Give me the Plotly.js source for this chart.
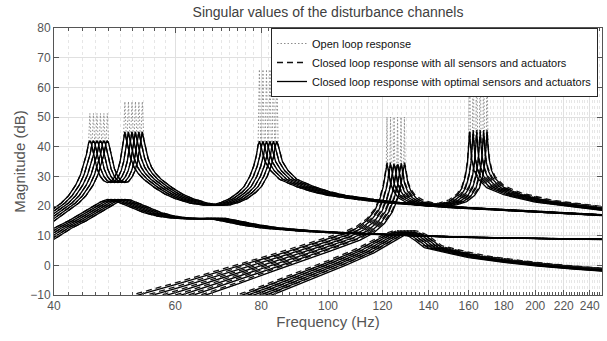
<!DOCTYPE html>
<html><head><meta charset="utf-8">
<script src="https://cdn.plot.ly/plotly-3.0.1.min.js"></script>
<style>html,body{margin:0;padding:0;background:#fff;} #chart{width:607px;height:341px;}</style>
</head><body><div id="chart"></div>
<script>
// ---- tick labels ----
const xTickVals = [40, 60, 80, 100, 120, 140, 160, 180, 200, 220, 240];
const xTickText = ['40', '60', '80', '100', '120', '140', '160', '180', '200', '220', '240'];
const yTickVals = [-10, 0, 10, 20, 30, 40, 50, 60, 70, 80];

// ---- plant variants (frequency scale of each variant, read from the spread of the peaks) ----
const variantScale = [1.000, 1.012, 1.024, 1.036, 1.048, 1.060];
const variantDrop  = [0, 0.2, 0.4, 0.6, 0.8, 1.0];   // share of the bundle spread

// ---- singular value 1 (peaks near 45, 51, 80 Hz) ----
const fA = [37.5, 40, 41, 42, 43, 43.7, 44.2, 44.6, 44.9, 45.1, 45.3, 45.55, 45.8, 46.2, 46.7, 47.2, 47.8, 48.4, 49.0, 49.5, 49.9, 50.2, 50.45, 50.7, 50.95, 51.3, 51.7, 52.3, 53.0, 54.0, 55.0, 56.0, 58.0, 60.0, 63.0, 66.0, 68.0, 70.0, 72.0, 74.0, 75.5, 77.0, 78.0, 78.7, 79.15, 79.5, 79.85, 80.3, 81.0, 82.5, 85, 90, 95, 100, 110, 120, 135, 150, 180, 210, 250, 270];
const clA = [14.5, 19.0, 21.0, 23.5, 27.0, 30.5, 34.0, 37.5, 41.2, 42.0, 41.2, 39.0, 36.0, 32.5, 30.0, 28.6, 27.9, 28.2, 29.8, 32.0, 35.0, 38.5, 42.5, 45.0, 42.5, 39.0, 36.0, 33.0, 31.0, 29.0, 27.5, 26.2, 24.0, 22.5, 21.0, 20.3, 20.4, 21.2, 22.5, 24.5, 26.5, 30.0, 33.5, 37.0, 40.5, 41.8, 40.5, 38.0, 35.0, 32.0, 29.0, 26.5, 24.8, 23.6, 22.2, 21.2, 20.2, 19.5, 18.5, 17.6, 16.8, 16.4];
const olA = [14.5, 19.0, 21.0, 23.5, 27.0, 30.5, 34.0, 37.5, 41.2, 51.2, 41.2, 39.0, 36.0, 32.5, 30.0, 28.6, 27.9, 28.2, 29.8, 32.0, 35.0, 38.5, 42.5, 55.2, 42.5, 39.0, 36.0, 33.0, 31.0, 29.0, 27.5, 26.2, 24.0, 22.5, 21.0, 20.3, 20.4, 21.2, 22.5, 24.5, 26.5, 30.0, 33.5, 37.0, 40.5, 66.0, 40.5, 38.0, 35.0, 32.0, 29.0, 26.5, 24.8, 23.6, 22.2, 21.2, 20.2, 19.5, 18.5, 17.6, 16.8, 16.4];

// ---- singular value 2 (bump near 48 Hz, flat tail) ----
const fC  = [37, 40, 42, 44, 45.5, 46.7, 47.8, 48.8, 50, 52, 54, 56.5, 59, 62, 65, 67, 70, 75, 80, 90, 100, 110, 120, 130, 150, 180, 200, 250, 270];
const clC = [7.5, 12.5, 15.0, 17.8, 19.7, 21.3, 22.2, 22.0, 21.0, 19.4, 17.8, 16.6, 16.0, 15.7, 15.9, 15.8, 15.0, 13.6, 12.6, 11.6, 11.0, 10.6, 10.2, 9.9, 9.5, 9.2, 9.0, 8.7, 8.6];

// ---- singular value 3 (peaks near 122 and 161 Hz) ----
const fD  = [48, 53, 60, 70, 78, 85, 95, 105, 110, 114, 117, 119, 120.3, 121.0, 121.5, 121.8, 122.1, 122.6, 123.3, 124.5, 126.5, 130, 135, 140, 145, 150, 154, 156.5, 158.3, 159.4, 160.1, 160.6, 161.1, 161.8, 163, 165, 170, 180, 200, 225, 250, 270];
const clD = [-14, -10, -6.5, -2.0, 1.3, 3.8, 7.3, 10.5, 12.5, 15.2, 18.5, 22.5, 26.5, 30.5, 33.2, 34.0, 33.2, 30.5, 27.5, 25.0, 22.8, 21.2, 20.3, 20.0, 20.4, 21.5, 23.5, 26.0, 30.0, 34.5, 39.5, 45.0, 40.0, 35.5, 32.0, 29.3, 26.2, 23.8, 21.3, 19.7, 18.5, 17.9];
const olD = [-14, -10, -6.5, -2.0, 1.3, 3.8, 7.3, 10.5, 12.5, 15.2, 18.5, 22.5, 26.5, 30.5, 33.2, 50.0, 33.2, 30.5, 27.5, 25.0, 22.8, 21.2, 20.3, 20.0, 20.4, 21.5, 23.5, 26.0, 30.0, 34.5, 39.5, 70.0, 40.0, 35.5, 32.0, 29.3, 26.2, 23.8, 21.3, 19.7, 18.5, 17.9];
const spreadD = [5.5, 5.5, 5, 4.2, 3.5, 3, 2.5, 2, 1.5, 1, 0.5, 0.2, 0, 0, 0, 0, 0, 0, 0, 0, 0, 0, 0, 0, 0, 0, 0, 0, 0, 0, 0, 0, 0, 0, 0, 0, 0, 0, 0, 0, 0, 0];

// ---- singular value 4 (bump near 127 Hz) ----
const fE  = [70, 75, 80, 90, 100, 110, 117, 121.5, 124, 126, 128, 131, 134, 138, 150, 160, 180, 200, 225, 250, 270];
const clE = [-13, -10, -7.6, -3.2, 1.0, 5.0, 8.3, 10.2, 10.9, 11.1, 10.8, 9.8, 8.3, 6.0, 4.0, 2.6, 1.0, -0.2, -1.2, -2.0, -2.5];
const spreadE = [1.5, 1.5, 1.5, 1.2, 1, 0.8, 0.5, 0.2, 0, 0, 0, 0, 0, 0, 0, 0, 0, 0, 0, 0, 0];

// all-sensor loop sits a little above the optimal one on the low branches
const allShiftD = 0.6, allShiftE = 0.6;

const names = ['Open loop response', 'Closed loop response with all sensors and actuators', 'Closed loop response with optimal sensors and actuators'];

function mk(f, m, spread, k, shift, style, group, show) {
  return {
    type: 'scatter', mode: 'lines',
    x: f.map(v => v * variantScale[k]),
    y: m.map((v, i) => v - (spread ? spread[i] * variantDrop[k] : 0) + shift),
    line: style, name: names[group], legendgroup: 'g' + group, showlegend: show,
    hoverinfo: 'skip'
  };
}

const olStyle  = {color: '#8c8c8c', width: 1, dash: '1.5px,2px'};
const allStyle = {color: '#111111', width: 1.3, dash: '6px,4px'};
const optStyle = {color: '#000000', width: 1.3};

const traces = [];
variantScale.forEach((s, k) => {
  traces.push(mk(fA, olA, null, k, 0, olStyle, 0, k === 0));
  traces.push(mk(fD, olD, spreadD, k, 0, olStyle, 0, false));
});
variantScale.forEach((s, k) => {
  traces.push(mk(fA, clA, null, k, 0, allStyle, 1, k === 0));
  traces.push(mk(fC, clC, null, k, 0, allStyle, 1, false));
  traces.push(mk(fD, clD, spreadD, k, allShiftD, allStyle, 1, false));
  traces.push(mk(fE, clE, spreadE, k, allShiftE, allStyle, 1, false));
});
variantScale.forEach((s, k) => {
  traces.push(mk(fA, clA, null, k, 0, optStyle, 2, k === 0));
  traces.push(mk(fC, clC, null, k, 0, optStyle, 2, false));
  traces.push(mk(fD, clD, spreadD, k, 0, optStyle, 2, false));
  traces.push(mk(fE, clE, spreadE, k, 0, optStyle, 2, false));
});

const minorVals = [];
for (let v = 42; v <= 250; v += 2) if (xTickVals.indexOf(v) < 0) minorVals.push(v);

const axisCol = '#555555';
const layout = {
  width: 607, height: 341,
  margin: {l: 54, r: 5, t: 28, b: 46},
  paper_bgcolor: '#ffffff', plot_bgcolor: '#ffffff',
  font: {family: 'Liberation Sans, Arial, sans-serif', color: axisCol},
  title: {text: 'Singular values of the disturbance channels', font: {size: 14, color: '#404040'},
          x: 0.5, xref: 'paper', xanchor: 'center', y: 1 - 12 / 341, yref: 'container', yanchor: 'middle'},
  showlegend: true,
  legend: {x: 0.9927, xanchor: 'right', y: 1, yanchor: 'top', bgcolor: '#ffffff',
           bordercolor: '#262626', borderwidth: 1, font: {size: 11, color: '#111'},
           tracegroupgap: 0, itemwidth: 30},
  xaxis: {
    type: 'log', range: [Math.log10(40), Math.log10(250)],
    tickmode: 'array', tickvals: xTickVals, ticktext: xTickText,
    ticks: 'inside', ticklen: 5, tickcolor: axisCol, tickwidth: 1,
    showline: true, linecolor: axisCol, linewidth: 1, mirror: 'ticks',
    showgrid: true, gridcolor: '#e0e0e0', gridwidth: 1, zeroline: false,
    tickfont: {size: 12, color: axisCol},
    title: {text: 'Frequency (Hz)', font: {size: 15, color: axisCol}, standoff: 4},
    minor: {tickmode: 'array', tickvals: minorVals, ticks: 'inside', ticklen: 3, tickcolor: axisCol,
            showgrid: true, gridcolor: '#e6e6e6', griddash: 'dot', gridwidth: 1}
  },
  yaxis: {
    range: [-10, 80], tickmode: 'array', tickvals: yTickVals,
    ticks: 'inside', ticklen: 5, tickcolor: axisCol, tickwidth: 1,
    showline: true, linecolor: axisCol, linewidth: 1, mirror: 'ticks',
    showgrid: true, gridcolor: '#e0e0e0', gridwidth: 1, zeroline: false,
    tickfont: {size: 12, color: axisCol}, automargin: true,
    title: {text: 'Magnitude (dB)', font: {size: 15, color: axisCol}, standoff: 0}
  }
};

Plotly.newPlot('chart', traces, layout, {staticPlot: true, displayModeBar: false});
</script></body></html>
